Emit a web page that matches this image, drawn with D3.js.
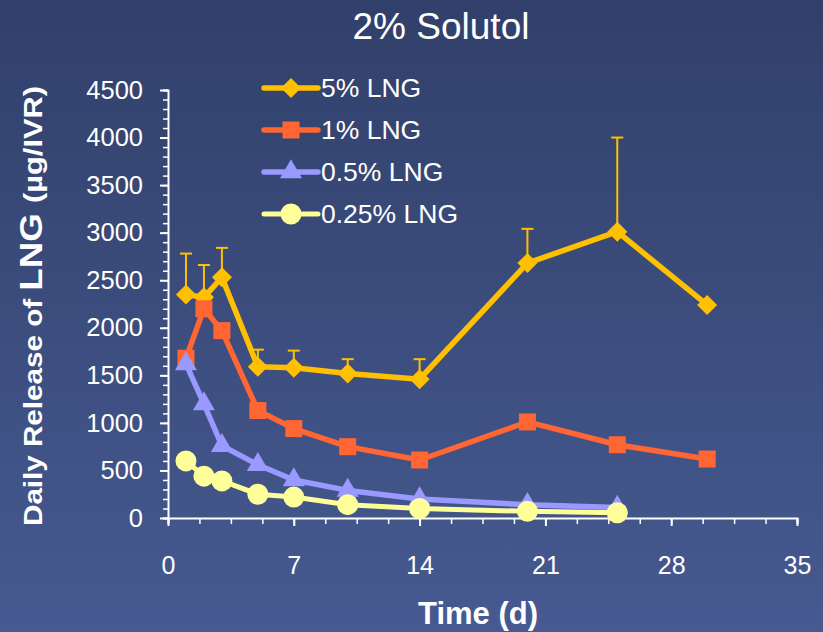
<!DOCTYPE html>
<html><head><meta charset="utf-8">
<script src="https://cdn.jsdelivr.net/npm/d3@7"></script>
<style>body{margin:0;background:#3a4a78;}svg{display:block;}text{font-family:"Liberation Sans",Arial,sans-serif;fill:#fff;}</style>
</head><body><svg id="c" width="823" height="632"></svg>
<script>
const days = [1, 2, 3, 5, 7, 10, 14, 20, 25, 30];
const lng5 = [2350, 2320, 2530, 1590, 1580, 1520, 1460, 2680, 3010, 2240];
const lng5Err = [2780, 2660, 2840, 1770, 1760, 1670, 1670, 3040, 4000, null];
const lng1 = [1680, 2200, 1970, 1130, 940, 750, 610, 1010, 770, 620];
const lng05 = [1620, 1200, 760, 560, 400, 290, 200, 140, 110];
const lng025 = [600, 440, 390, 250, 220, 140, 100, 70, 55];
const xTicks = [0, 7, 14, 21, 28, 35];
const yTicks = [0, 500, 1000, 1500, 2000, 2500, 3000, 3500, 4000, 4500];
const seriesNames = ["5% LNG", "1% LNG", "0.5% LNG", "0.25% LNG"];

const svg = d3.select("#c");
const W = 823, H = 632;
const defs = svg.append("defs");
const grad = defs.append("linearGradient").attr("id","bg").attr("x1",0).attr("y1",0).attr("x2",0).attr("y2",1);
grad.append("stop").attr("offset","0%").attr("stop-color","#31406a");
grad.append("stop").attr("offset","100%").attr("stop-color","#465a91");
svg.append("rect").attr("width",W).attr("height",H).attr("fill","url(#bg)");

const x = d3.scaleLinear().domain([0,35]).range([168,797]);
const y = d3.scaleLinear().domain([0,4500]).range([518,90]);

// title
svg.append("text").attr("x",441).attr("y",39).attr("text-anchor","middle").style("font-size","37px").text("2% Solutol");

// axes
const gx = svg.append("g").attr("transform",`translate(0,${y(0)})`);
gx.call(d3.axisBottom(x).tickValues(d3.range(0,35.01,1.75)).tickSize(6).tickFormat(""));
gx.call(g=>{g.select(".domain").attr("stroke","#fff").attr("stroke-width",2);g.selectAll(".tick line").attr("stroke","#fff").attr("stroke-width",1.5);});
const gx2 = svg.append("g").attr("transform",`translate(0,${y(0)})`);
gx2.call(d3.axisBottom(x).tickValues(xTicks).tickSize(8).tickPadding(30).tickFormat(d3.format("d")));
gx2.call(g=>{g.select(".domain").remove();g.selectAll(".tick line").attr("stroke","#fff").attr("stroke-width",2);
  g.selectAll(".tick text").style("font-size","25px").attr("fill","#fff").style("font-family","'Liberation Sans',Arial,sans-serif");});

const gy = svg.append("g").attr("transform",`translate(${x(0)},0)`);
gy.call(d3.axisLeft(y).tickValues(d3.range(0,4501,100)).tickSize(5).tickFormat(""));
gy.call(g=>{g.select(".domain").attr("stroke","#fff").attr("stroke-width",2);g.selectAll(".tick line").attr("stroke","#fff").attr("stroke-width",1.5);});
const gy2 = svg.append("g").attr("transform",`translate(${x(0)},0)`);
gy2.call(d3.axisLeft(y).tickValues(yTicks).tickSize(8).tickPadding(17).tickFormat(d3.format("d")));
gy2.call(g=>{g.select(".domain").remove();g.selectAll(".tick line").attr("stroke","#fff").attr("stroke-width",2);
  g.selectAll(".tick text").style("font-size","25.5px").attr("fill","#fff").style("font-family","'Liberation Sans',Arial,sans-serif");});

// axis titles
svg.append("text").attr("x",478).attr("y",624).attr("text-anchor","middle").style("font-size","31px").style("font-weight","bold").text("Time (d)");
const yt = svg.append("text").attr("transform","translate(42,306) rotate(-90)").attr("text-anchor","middle").style("font-weight","bold")
  .attr("textLength",440).attr("lengthAdjust","spacingAndGlyphs");
yt.append("tspan").style("font-size","25px").text("Daily Release of ");
yt.append("tspan").style("font-size","31px").text("LNG ");
yt.append("tspan").style("font-size","26px").text("(\u00b5g/IVR)");

// series
const colors = ["#FFC000","#FF6633","#9999FF","#FFFF99"];
const allData = [lng5, lng1, lng05, lng025];
const widths = [5.5,5.5,5.5,5];
const line = d3.line().x(d=>x(d[0])).y(d=>y(d[1]));

// error bars for 5%
const eb = svg.append("g");
days.forEach((d,i)=>{
  if(lng5Err[i]==null) return;
  eb.append("line").attr("x1",x(d)).attr("x2",x(d)).attr("y1",y(lng5[i])).attr("y2",y(lng5Err[i])).attr("stroke",colors[0]).attr("stroke-width",2);
  eb.append("line").attr("x1",x(d)-6).attr("x2",x(d)+6).attr("y1",y(lng5Err[i])).attr("y2",y(lng5Err[i])).attr("stroke",colors[0]).attr("stroke-width",2);
});

function marker(g, type, cx, cy, color){
  if(type===0){
    g.append("path").attr("d",d3.symbol(d3.symbolSquare,200)()).attr("transform",`translate(${cx},${cy}) rotate(45)`).attr("fill",color);
  } else if(type===1){
    g.append("rect").attr("x",cx-8.5).attr("y",cy-8.5).attr("width",17).attr("height",17).attr("fill",color);
  } else if(type===2){
    g.append("path").attr("d",d3.symbol(d3.symbolTriangle,210)()).attr("transform",`translate(${cx},${cy})`).attr("fill",color);
  } else {
    g.append("circle").attr("cx",cx).attr("cy",cy).attr("r",10.5).attr("fill",color);
  }
}

allData.forEach((vals,si)=>{
  const pts = vals.map((v,i)=>[days[i],v]);
  const g = svg.append("g");
  g.append("path").attr("d",line(pts)).attr("fill","none").attr("stroke",colors[si]).attr("stroke-width",widths[si]).attr("stroke-linejoin","round");
  pts.forEach(p=>marker(g, si, x(p[0]), y(p[1]), colors[si]));
});

// legend
const lg = svg.append("g");
seriesNames.forEach((n,i)=>{
  const cy = 88 + i*42;
  lg.append("line").attr("x1",264).attr("x2",318).attr("y1",cy).attr("y2",cy).attr("stroke",colors[i]).attr("stroke-width",widths[i]).attr("stroke-linecap","round");
  marker(lg, i, 291, cy, colors[i]);
  lg.append("text").attr("x",321).attr("y",cy+9).style("font-size","26.5px").text(n);
});
</script></body></html>
